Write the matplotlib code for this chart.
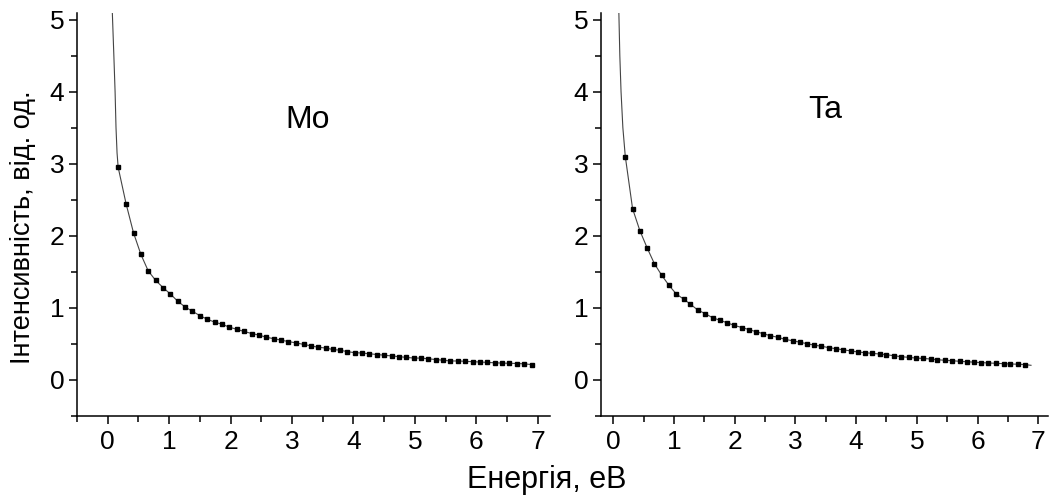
import matplotlib.pyplot as plt
from matplotlib.ticker import MultipleLocator

plt.rcParams['font.family'] = ['Liberation Sans', 'DejaVu Sans']

# Mo: measured points
mo_x = [0.17, 0.30, 0.42, 0.54, 0.66, 0.78, 0.90, 1.02, 1.14, 1.26,
        1.38, 1.50, 1.62, 1.74, 1.86, 1.98, 2.10, 2.22, 2.35, 2.46,
        2.58, 2.70, 2.82, 2.94, 3.07, 3.19, 3.31, 3.43, 3.55, 3.66,
        3.78, 3.90, 4.02, 4.14, 4.26, 4.38, 4.50, 4.62, 4.74, 4.86,
        4.98, 5.10, 5.22, 5.34, 5.46, 5.58, 5.70, 5.82, 5.94, 6.06,
        6.18, 6.30, 6.42, 6.54, 6.66, 6.78, 6.90]
mo_y = [2.95, 2.44, 2.04, 1.74, 1.51, 1.38, 1.28, 1.19, 1.09, 1.01,
        0.95, 0.89, 0.84, 0.80, 0.77, 0.73, 0.70, 0.67, 0.64, 0.62,
        0.59, 0.57, 0.55, 0.53, 0.51, 0.49, 0.47, 0.45, 0.44, 0.42,
        0.41, 0.39, 0.375, 0.37, 0.36, 0.35, 0.34, 0.33, 0.32, 0.31,
        0.30, 0.30, 0.29, 0.28, 0.27, 0.26, 0.26, 0.255, 0.25, 0.245,
        0.24, 0.235, 0.23, 0.228, 0.225, 0.22, 0.21]
# Mo: fitted curve (steep part above the first point)
mo_fit_x = [0.075, 0.10, 0.12, 0.135, 0.152]
mo_fit_y = [5.1, 4.5, 4.0, 3.5, 3.15]

# Ta: measured points
ta_x = [0.20, 0.32, 0.44, 0.56, 0.68, 0.80, 0.92, 1.04, 1.16, 1.27,
        1.39, 1.52, 1.64, 1.76, 1.88, 1.99, 2.12, 2.24, 2.36, 2.47,
        2.59, 2.71, 2.83, 2.96, 3.08, 3.19, 3.31, 3.43, 3.55, 3.67,
        3.79, 3.91, 4.03, 4.15, 4.27, 4.39, 4.50, 4.62, 4.74, 4.87,
        4.99, 5.11, 5.23, 5.34, 5.46, 5.58, 5.71, 5.82, 5.94, 6.06,
        6.18, 6.30, 6.43, 6.54, 6.66, 6.78]
ta_y = [3.10, 2.375, 2.07, 1.83, 1.61, 1.45, 1.31, 1.19, 1.12, 1.05,
        0.97, 0.915, 0.86, 0.825, 0.79, 0.755, 0.725, 0.695, 0.665, 0.64,
        0.61, 0.59, 0.56, 0.54, 0.52, 0.50, 0.48, 0.465, 0.445, 0.43,
        0.415, 0.40, 0.385, 0.375, 0.365, 0.357, 0.347, 0.333, 0.32, 0.31,
        0.30, 0.295, 0.287, 0.277, 0.27, 0.264, 0.255, 0.25, 0.243, 0.237,
        0.232, 0.228, 0.222, 0.218, 0.215, 0.21]
ta_fit_x = [0.094, 0.11, 0.13, 0.16, 0.18]
ta_fit_y = [5.1, 4.5, 4.0, 3.5, 3.3]
ta_end_x = [6.88]
ta_end_y = [0.20]

panels = [
    ("Mo", mo_fit_x + mo_x, mo_fit_y + mo_y, mo_x, mo_y, (-0.5, 7.2), (3.25, 3.61)),
    ("Ta", ta_fit_x + ta_x + ta_end_x, ta_fit_y + ta_y + ta_end_y, ta_x, ta_y, (-0.2, 7.16), (3.49, 3.75)),
]
rects = [[77 / 1049, 83.3 / 499, 473 / 1049, 403.2 / 499],
         [601 / 1049, 83.3 / 499, 447 / 1049, 403.2 / 499]]

fig = plt.figure(figsize=(10.49, 4.99), dpi=100)

for rect, (name, lx, ly, px, py, xlim, lab) in zip(rects, panels):
    ax = fig.add_axes(rect)
    ax.plot(lx, ly, color='#444444', lw=0.8, zorder=2)
    ax.plot(px, py, ls='none', marker='s', ms=3.2, color='black', zorder=3)
    ax.set_xlim(*xlim)
    ax.set_ylim(-0.5, 5.1)
    ax.spines['top'].set_visible(False)
    ax.spines['right'].set_visible(False)
    for s in ('left', 'bottom'):
        ax.spines[s].set_linewidth(1.1)
    ax.xaxis.set_major_locator(MultipleLocator(1))
    ax.xaxis.set_minor_locator(MultipleLocator(0.5))
    ax.yaxis.set_major_locator(MultipleLocator(1))
    ax.yaxis.set_minor_locator(MultipleLocator(0.5))
    ax.tick_params(which='major', direction='out', length=6, width=1.1,
                   labelsize=19)
    ax.tick_params(axis='x', which='major', pad=4)
    ax.tick_params(axis='y', which='major', pad=3)
    ax.tick_params(which='minor', direction='out', length=4, width=1.1)
    ax.text(lab[0], lab[1], name, fontsize=23, ha='center', va='center')

fig.text(547 / 1049, 1 - 480 / 499, "Енергія, еВ", fontsize=22,
         ha='center', va='center')
fig.text(23 / 1049, 1 - 227 / 499, "Інтенсивність, від. од.", fontsize=19.5,
         ha='center', va='center', rotation=90)

fig.savefig("out.png", dpi=100)
